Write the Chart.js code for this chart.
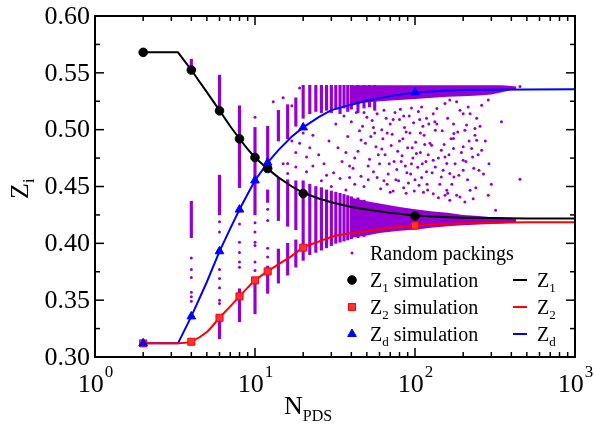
<!DOCTYPE html>
<html><head><meta charset="utf-8">
<script src="https://cdn.jsdelivr.net/npm/chart.js@4/dist/chart.umd.min.js"></script>
<style>html,body{margin:0;padding:0;background:#fff}</style>
</head><body>
<canvas id="c" width="594" height="429"></canvas>
<script>
// ---------- data ----------
const simN  = [2, 4, 6, 8, 10, 12, 20, 100];
const z1Sim = [0.568, 0.5525, 0.5166, 0.4919, 0.4755, 0.4658, 0.4438, 0.424];
const z2Sim = [0.312, 0.3134, 0.3345, 0.3533, 0.3674, 0.3753, 0.3962, 0.4157];
const zdSim = [0.312, 0.3357, 0.393, 0.4297, 0.4553, 0.471, 0.502, 0.5328];

const curveN  = [2, 3.3, 4, 5, 6, 7, 8, 9, 10, 12, 14, 17, 20, 25, 30, 40, 50, 70, 100, 150, 200, 300, 500, 1000];
const z1Curve = [0.568,0.568,0.5525,0.533,0.517,0.503,0.492,0.4828,0.4755,0.4655,0.458,0.450,0.4445,0.4395,0.4362,0.432,0.4297,0.4268,0.4245,0.4232,0.4226,0.4222,0.4219,0.4218];
const z2Curve = [0.312,0.312,0.3138,0.322,0.3345,0.3445,0.3533,0.361,0.3674,0.3753,0.3815,0.389,0.3962,0.4015,0.4056,0.409,0.4108,0.4135,0.4157,0.417,0.4177,0.4182,0.4185,0.4186];
const zdCurve = [0.312,0.312,0.3357,0.366,0.393,0.413,0.4297,0.4434,0.4553,0.471,0.482,0.494,0.502,0.511,0.5172,0.522,0.5254,0.5295,0.5328,0.5343,0.5348,0.5352,0.5354,0.5355];

// random packings: dense vertical stripes [N, low, high]
const stripeN  = [4,4, 6,6,6, 8,8, 10,10, 12,12,12, 14,14,14, 16,16,16, 18,18,18, 20,20, 22,22, 24,24, 26,26, 28,28, 30,30, 32,32, 34,34, 36,36, 38,38, 40,40, 44,44, 48,48, 52, 56];
const stripeLo = [0.550,0.405, 0.513,0.425,0.316, 0.449,0.331, 0.425,0.338, 0.467,0.436,0.356, 0.490,0.420,0.365, 0.492,0.415,0.372, 0.503,0.412,0.379, 0.510,0.385, 0.514,0.390, 0.516,0.392, 0.515,0.394, 0.517,0.396, 0.515,0.398, 0.518,0.400, 0.514,0.401, 0.519,0.402, 0.516,0.403, 0.518,0.404, 0.515,0.405, 0.519,0.406, 0.520, 0.517];
const stripeHi = [0.562,0.437, 0.548,0.460,0.335, 0.521,0.360, 0.502,0.367, 0.503,0.447,0.380, 0.517,0.458,0.395, 0.522,0.456,0.400, 0.528,0.455,0.403, 0.539,0.455, 0.539,0.452, 0.539,0.450, 0.539,0.449, 0.539,0.447, 0.539,0.446, 0.539,0.445, 0.539,0.444, 0.539,0.443, 0.539,0.442, 0.539,0.441, 0.539,0.440, 0.539,0.438, 0.539, 0.539];

// random packings: saturated bands at large N
const bandN       = [40, 50, 60, 80, 100, 130, 160, 200, 250, 300, 350, 400, 430];
const upperBandLo = [0.523,0.524,0.525,0.526,0.527,0.528,0.529,0.5295,0.530,0.531,0.533,0.535,0.5355];
const upperBandHi = [0.539,0.539,0.539,0.539,0.539,0.539,0.539,0.539,0.539,0.539,0.539,0.5385,0.538];
const lowerBandLo = [0.405,0.407,0.409,0.411,0.412,0.414,0.415,0.416,0.4165,0.417,0.4175,0.418,0.4185];
const lowerBandHi = [0.440,0.437,0.435,0.432,0.430,0.428,0.427,0.425,0.424,0.423,0.4225,0.422,0.4215];

// random packings: sparse individual points [N, Z]
const randomDots = [
 [4,0.387],[4,0.377],[4,0.370],[4,0.357],[4,0.353],[4,0.349],
 [6,0.419],[6,0.410],[6,0.377],[6,0.369],[6,0.361],[6,0.350],[6,0.347],
 [8,0.417],[8,0.401],[8,0.392],[8,0.3835],[8,0.379],
 [10,0.511],[10,0.418],[10,0.410],[10,0.401],[10,0.398],[10,0.3835],[10,0.376],
 [12,0.430],[12,0.420],[12,0.3956],[12,0.388],
 [13,0.5245],[15,0.528],[17,0.521],[19,0.5366],
 [15,0.470],[16,0.4702],[16,0.4614],[18,0.4672],[18,0.480],[19,0.488],[21,0.476],[21,0.463],[23,0.495],[23,0.468],[17,0.490],[20,0.497],[22,0.484],
 [36,0.512],[40,0.507],[43,0.515],[47,0.503],[50,0.511],[54,0.508],[58,0.514],[62,0.500],[66,0.510],[70,0.505],[75,0.515],[80,0.509],[86,0.502],[92,0.512],[98,0.506],[105,0.516],[112,0.503],[118,0.510],[45,0.499],[56,0.497],[72,0.496],[88,0.498],[108,0.497],[122,0.505],
 [25,0.478],[27,0.470],[29,0.490],[31,0.462],[33,0.484],[35,0.472],[38,0.494],[41,0.466],[44,0.481],[46,0.459],[49,0.488],[52,0.474],[55,0.463],[57,0.485],[60,0.470],[63,0.492],[65,0.478],[68,0.461],[71,0.486],[74,0.472],[77,0.465],[80,0.490],[83,0.477],[87,0.468],[90,0.484],[94,0.461],[97,0.475],[101,0.489],[104,0.467],[108,0.480],[111,0.470],[115,0.487],[118,0.463],[121,0.478],[53,0.494],[84,0.492],[64,0.455],[100,0.456],[42,0.452],[78,0.481],[59,0.478],[96,0.484],
 [26,0.455],[30,0.450],[34,0.457],[37,0.447],[39,0.458],[48,0.450],[51,0.456],[61,0.448],[67,0.452],[73,0.446],[79,0.455],[85,0.449],[91,0.453],[99,0.446],[106,0.451],[113,0.445],[119,0.452],
 [130,0.514],[137,0.505],[134,0.4995],[127,0.4863],[130,0.4731],[134,0.4672],[130,0.4437],[146,0.482],[154,0.476],[158,0.4702],[150,0.4643],[174,0.505],[175,0.4966],[174,0.4922],[174,0.4834],[165,0.4614],[175,0.4584],[182,0.4423],[191,0.4408],[200,0.4849],[200,0.4731],[200,0.4643],[205,0.4995],[210,0.504],[221,0.514],[226,0.4834],[229,0.476],[237,0.501],[237,0.4951],[243,0.4907],[261,0.482],[251,0.4643],[221,0.4467],[231,0.4393],[205,0.4364],[165,0.4379],[158,0.4467],[154,0.4423],[146,0.4584],[137,0.5186],[154,0.523],[165,0.526],[182,0.5245],[191,0.517],[200,0.514],[215,0.520],[243,0.510],[261,0.5215],[287,0.526],
 [42,0.475],[46,0.491],[51,0.468],[55,0.502],[58,0.458],[62,0.483],[67,0.497],[69,0.470],[73,0.509],[76,0.456],[82,0.472],[85,0.512],[89,0.462],[93,0.497],[95,0.470],[102,0.479],[107,0.509],[110,0.458],[114,0.495],[117,0.472],[124,0.488],[128,0.462],[133,0.507],[140,0.475],[143,0.452],[148,0.499],[152,0.487],[160,0.510],[163,0.478],[168,0.492],[170,0.452],[178,0.470],[185,0.498],[188,0.460],[195,0.480],[208,0.472],[213,0.456],[218,0.490],[233,0.466],[240,0.449],[248,0.478],[255,0.503],[268,0.461],[275,0.490],[290,0.470],[300,0.452],[32,0.505],[28,0.460],[37,0.480],[39,0.468],[48,0.515],[64,0.517],[81,0.518],[95,0.519],[110,0.520],[70,0.445],[88,0.444],[120,0.447],[140,0.440],[160,0.444],
 [347,0.507],[453,0.4564],[319,0.429],[287,0.4423],[453,0.538]
];

const yTickValues = [0.30, 0.35, 0.40, 0.45, 0.50, 0.55, 0.60];
const xTickExponents = [0, 1, 2, 3];

// ---------- drawing ----------
const PURPLE = '#9400d3';
const SERIF = '"Liberation Serif", "Times New Roman", serif';

function subText(ctx, x, yb, main, sub, rest, big, small, drop) {
  ctx.font = big + 'px ' + SERIF;
  ctx.fillText(main, x, yb);
  let w = ctx.measureText(main).width;
  ctx.font = small + 'px ' + SERIF;
  ctx.fillText(sub, x + w, yb + drop);
  w += ctx.measureText(sub).width;
  if (rest) { ctx.font = big + 'px ' + SERIF; ctx.fillText(rest, x + w, yb); }
}

const axesPlugin = {
  id: 'axesPlugin',
  afterDraw(chart) {
    const {ctx, chartArea: a, scales: {x, y}} = chart;
    ctx.save();
    ctx.strokeStyle = '#000';
    ctx.fillStyle = '#000';
    const seg = (x1, y1, x2, y2) => { ctx.beginPath(); ctx.moveTo(x1, y1); ctx.lineTo(x2, y2); ctx.stroke(); };
    // ticks
    ctx.lineWidth = 1.5;
    for (let i = 0; i <= 12; i++) {
      const v = 0.30 + i * 0.025;
      const py = y.getPixelForValue(v);
      const len = i % 2 === 0 ? 9 : 5;
      seg(a.left, py, a.left + len, py);
      seg(a.right, py, a.right - len, py);
    }
    for (let d = 0; d < 3; d++) {
      for (let m = 1; m <= 9; m++) {
        const px = x.getPixelForValue(m * Math.pow(10, d));
        const len = m === 1 ? 9 : 5;
        seg(px, a.bottom, px, a.bottom - len);
        seg(px, a.top, px, a.top + len);
      }
    }
    // frame
    ctx.lineWidth = 2;
    ctx.strokeRect(a.left, a.top, a.right - a.left, a.bottom - a.top);
    // y tick labels
    ctx.font = '26px ' + SERIF;
    ctx.textAlign = 'right';
    ctx.textBaseline = 'middle';
    yTickValues.forEach(v => ctx.fillText(v.toFixed(2), a.left - 5, y.getPixelForValue(v) + 1));
    // x tick labels
    ctx.textAlign = 'left';
    ctx.textBaseline = 'alphabetic';
    xTickExponents.forEach(e => {
      const px = x.getPixelForValue(Math.pow(10, e));
      ctx.font = '26px ' + SERIF;
      const w1 = ctx.measureText('10').width;
      ctx.font = '17px ' + SERIF;
      const w2 = ctx.measureText(String(e)).width;
      const start = px - (w1 + w2) / 2;
      ctx.font = '26px ' + SERIF;
      ctx.fillText('10', start, 392);
      ctx.font = '17px ' + SERIF;
      ctx.fillText(String(e), start + w1 + 1, 377);
    });
    // axis titles
    subText(ctx, 284, 414, 'N', 'PDS', '', 26, 16, 7);
    ctx.save();
    ctx.translate(28, 199);
    ctx.rotate(-Math.PI / 2);
    subText(ctx, 0, 0, 'Z', 'i', '', 26, 16, 6);
    ctx.restore();
    // legend
    const H = Chart.helpers;
    const mx = 352, tx = 370, rows = [253, 280, 307, 334];
    ctx.fillStyle = PURPLE; ctx.beginPath(); ctx.arc(mx, rows[0], 1.5, 0, Math.PI * 2); ctx.fill();
    ctx.fillStyle = '#000';
    ctx.font = '20px ' + SERIF;
    ctx.fillText('Random packings', tx, rows[0] + 7);
    const legendSeries = [
      {sub: '1', color: '#000', fill: '#000', style: 'circle', r: 4.3},
      {sub: '2', color: '#ff0000', fill: '#ff3333', style: 'rect', r: 5},
      {sub: 'd', color: '#0000ff', fill: '#0000ff', style: 'triangle', r: 5}
    ];
    legendSeries.forEach((s, i) => {
      const ry = rows[i + 1];
      ctx.fillStyle = s.fill; ctx.strokeStyle = s.color; ctx.lineWidth = 1;
      H.drawPoint(ctx, {pointStyle: s.style, radius: s.r, borderWidth: 1}, mx, ry);
      ctx.fillStyle = '#000';
      subText(ctx, tx, ry + 7, 'Z', s.sub, ' simulation', 20, 13, 5);
      ctx.strokeStyle = s.color; ctx.lineWidth = 2;
      seg(513, ry, 527, ry);
      ctx.fillStyle = '#000';
      subText(ctx, 537, ry + 7, 'Z', s.sub, '', 20, 13, 5);
    });
    ctx.restore();
  }
};

const pts = (xs, ys) => xs.map((n, i) => ({x: n, y: ys[i]}));
const bandLine = (ys, fill) => ({
  type: 'line', data: pts(bandN, ys), borderColor: 'rgba(0,0,0,0)', borderWidth: 0,
  pointRadius: 0, showLine: true, fill: fill, backgroundColor: PURPLE, order: 8
});

new Chart(document.getElementById('c'), {
  type: 'scatter',
  data: {
    datasets: [
      {type: 'bar', data: stripeN.map((n, i) => ({x: n, y: [stripeLo[i], stripeHi[i]]})),
       backgroundColor: PURPLE, barThickness: 2.5, borderWidth: 0, order: 9},
      bandLine(upperBandLo, false),
      bandLine(upperBandHi, '-1'),
      bandLine(lowerBandLo, false),
      bandLine(lowerBandHi, '-1'),
      {type: 'scatter', data: randomDots.map(([n, z]) => ({x: n, y: z})),
       pointRadius: 1.5, backgroundColor: PURPLE, borderWidth: 0, order: 7},
      {type: 'line', data: pts(curveN, z1Curve), borderColor: '#000', borderWidth: 2, pointRadius: 0, tension: 0, fill: false, showLine: true, order: 2},
      {type: 'line', data: pts(curveN, z2Curve), borderColor: '#ff0000', borderWidth: 2, pointRadius: 0, cubicInterpolationMode: 'monotone', fill: false, showLine: true, order: 2},
      {type: 'line', data: pts(curveN, zdCurve), borderColor: '#0000ff', borderWidth: 2, pointRadius: 0, tension: 0, fill: false, showLine: true, order: 2},
      {type: 'scatter', data: pts(simN, z1Sim), pointStyle: 'circle', pointRadius: 4.3, backgroundColor: '#000', borderColor: '#000', borderWidth: 1, order: 1},
      {type: 'scatter', data: pts(simN, z2Sim), pointStyle: 'rect', pointRadius: 5, backgroundColor: '#ff3333', borderColor: '#ff0000', borderWidth: 1, order: 1},
      {type: 'scatter', data: pts(simN, zdSim), pointStyle: 'triangle', pointRadius: 5, backgroundColor: '#0000ff', borderColor: '#0000ff', borderWidth: 1, order: 0}
    ]
  },
  options: {
    responsive: false, animation: false, devicePixelRatio: 1, events: [],
    layout: {padding: {left: 95, right: 19, top: 16, bottom: 72}},
    plugins: {legend: {display: false}, tooltip: {enabled: false}},
    scales: {
      x: {type: 'logarithmic', min: 1, max: 1000, display: false, offset: false},
      y: {type: 'linear', min: 0.30, max: 0.60, display: false, beginAtZero: false}
    }
  },
  plugins: [axesPlugin]
});
</script>
</body></html>
